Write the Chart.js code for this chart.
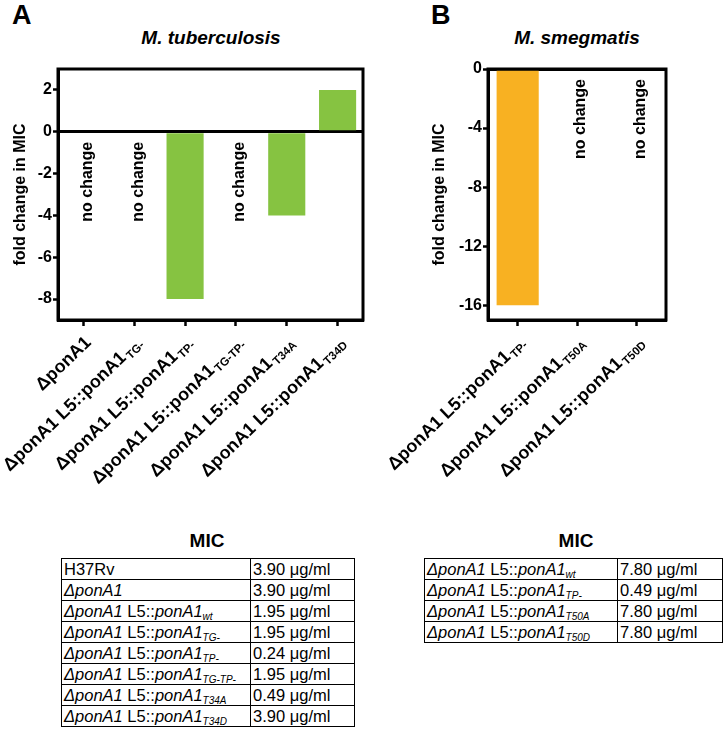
<!DOCTYPE html>
<html><head><meta charset="utf-8">
<script src="https://cdn.jsdelivr.net/npm/chart.js@4/dist/chart.umd.min.js"></script>
<style>
body{margin:0;background:#fff;width:726px;height:729px;position:relative;overflow:hidden;font-family:"Liberation Sans",Arial,sans-serif;color:#000;}
.abs{position:absolute;}
.panel{font-weight:bold;font-size:27px;line-height:27px;}
.title{font-weight:bold;font-style:italic;font-size:19px;line-height:20px;transform:translateX(-50%);white-space:nowrap;}
.mic{font-weight:bold;font-size:19px;line-height:20px;transform:translateX(-50%);}
table{border-collapse:collapse;font-size:16.5px;}
td{border:1.5px solid #000;height:20px;padding:0 0 0 2px;line-height:18px;white-space:nowrap;}
sub{font-size:10px;font-style:italic;vertical-align:-3px;line-height:0;}
</style></head>
<body>
<div class="abs panel" style="left:12px;top:2px;">A</div>
<div class="abs panel" style="left:431px;top:2px;">B</div>
<div class="abs title" style="left:211px;top:28px;">M. tuberculosis</div>
<div class="abs title" style="left:577px;top:28px;">M. smegmatis</div>
<div class="abs" style="left:0;top:0;"><canvas id="cA" width="380" height="520"></canvas></div>
<div class="abs" style="left:360px;top:0;"><canvas id="cB" width="366" height="520"></canvas></div>
<div class="abs mic" style="left:207px;top:531px;">MIC</div>
<div class="abs mic" style="left:576px;top:531px;">MIC</div>
<table class="abs" id="tA" style="left:61px;top:558px;width:294px;"></table>
<table class="abs" id="tB" style="left:424px;top:558px;width:299px;"></table>
<script>
// ---- chart data ----
const tbCategories = ['ΔponA1','ΔponA1 L5::ponA1','ΔponA1 L5::ponA1','ΔponA1 L5::ponA1','ΔponA1 L5::ponA1','ΔponA1 L5::ponA1'];
const tbSubscripts = ['','TG-','TP-','TG-TP-','T34A','T34D'];
const tbFoldChange = [0,0,-8,0,-4,2];
const tbTicks = [2,0,-2,-4,-6,-8];

const smCategories = ['ΔponA1 L5::ponA1','ΔponA1 L5::ponA1','ΔponA1 L5::ponA1'];
const smSubscripts = ['TP-','T50A','T50D'];
const smFoldChange = [-16,0,0];
const smTicks = [0,-4,-8,-12,-16];

// ---- table data ----
const tbTableStrains = ['H37Rv','ΔponA1','ΔponA1 L5::ponA1','ΔponA1 L5::ponA1','ΔponA1 L5::ponA1','ΔponA1 L5::ponA1','ΔponA1 L5::ponA1','ΔponA1 L5::ponA1'];
const tbTableSubs = ['','','wt','TG-','TP-','TG-TP-','T34A','T34D'];
const tbTableMIC = ['3.90 μg/ml','3.90 μg/ml','1.95 μg/ml','1.95 μg/ml','0.24 μg/ml','1.95 μg/ml','0.49 μg/ml','3.90 μg/ml'];
const smTableStrains = ['ΔponA1 L5::ponA1','ΔponA1 L5::ponA1','ΔponA1 L5::ponA1','ΔponA1 L5::ponA1'];
const smTableSubs = ['wt','TP-','T50A','T50D'];
const smTableMIC = ['7.80 μg/ml','0.49 μg/ml','7.80 μg/ml','7.80 μg/ml'];

function fmt(name, sub){
  let h = name.replace(/Δ?ponA1/g, m => '<i>'+m+'</i>');
  if (sub) h += '<sub>'+sub+'</sub>';
  return h;
}
function buildTable(id, strains, subs, mic, w1){
  const t = document.getElementById(id);
  strains.forEach((s,i)=>{
    const tr = document.createElement('tr');
    tr.innerHTML = '<td style="width:'+w1+'px">'+fmt(s,subs[i])+'</td><td>'+mic[i]+'</td>';
    t.appendChild(tr);
  });
}
buildTable('tA', tbTableStrains, tbTableSubs, tbTableMIC, 186);
buildTable('tB', smTableStrains, smTableSubs, smTableMIC, 190);

const FONT = '"Liberation Sans", Arial, sans-serif';
const LABEL_ANGLE = 44 * Math.PI / 180;

function xLabelPlugin(labels, subs){
  return {
    id:'xlabels',
    afterDraw(chart){
      const ctx = chart.ctx, xs = chart.scales.x, area = chart.chartArea;
      labels.forEach((lab,i)=>{
        const x = xs.getPixelForTick(i);
        ctx.save();
        ctx.translate(x + 5, area.bottom + 20);
        ctx.rotate(-LABEL_ANGLE);
        ctx.fillStyle = '#000';
        ctx.textBaseline = 'middle';
        ctx.textAlign = 'left';
        const mainF = 'bold 18px ' + FONT, subF = 'bold 11.5px ' + FONT;
        ctx.font = mainF;
        const w1 = ctx.measureText(lab).width;
        let w2 = 0;
        if (subs[i]) { ctx.font = subF; w2 = ctx.measureText(subs[i]).width + 2; }
        ctx.font = mainF;
        ctx.fillText(lab, -(w1+w2), 0);
        if (subs[i]) { ctx.font = subF; ctx.fillText(subs[i], -w2+2, 5); }
        ctx.restore();
      });
    }
  };
}
const noChangePlugin = {
  id:'nochange',
  afterDatasetsDraw(chart){
    const ctx = chart.ctx, xs = chart.scales.x, ys = chart.scales.y;
    const data = chart.data.datasets[0].data;
    data.forEach((v,i)=>{
      if (v !== 0) return;
      ctx.save();
      ctx.translate(xs.getPixelForValue(i) + 4, ys.getPixelForValue(0) + 10);
      ctx.rotate(-Math.PI/2);
      ctx.font = 'bold 16px ' + FONT;
      ctx.fillStyle = '#000';
      ctx.textAlign = 'right';
      ctx.textBaseline = 'middle';
      ctx.fillText('no change', 0, 0);
      ctx.restore();
    });
  }
};
const framePlugin = {
  id:'frame',
  afterDraw(chart){
    const a = chart.chartArea, ctx = chart.ctx;
    ctx.save();
    ctx.strokeStyle = '#000';
    ctx.lineWidth = 3;
    ctx.strokeRect(a.left, a.top, a.right-a.left, a.bottom-a.top);
    ctx.restore();
  }
};

function makeChart(id, cats, subs, vals, ticks, min, max, color, barPct, pad, yW){
  return new Chart(document.getElementById(id), {
    type:'bar',
    data:{
      labels: cats.map((c,i)=>c+' '+subs[i]),
      datasets:[{data: vals, backgroundColor: color, borderWidth:0, barPercentage: barPct, categoryPercentage: 1}]
    },
    options:{
      responsive:false, animation:false, devicePixelRatio:1,
      layout:{padding: pad},
      plugins:{legend:{display:false}, tooltip:{enabled:false}},
      scales:{
        x:{
          type:'category',
          ticks:{display:false},
          grid:{offset:false, drawOnChartArea:false, drawTicks:true, tickLength:6, tickColor:'#000', tickWidth:2.5},
          border:{display:true, color:'#000', width:3},
          afterFit: s => { s.height = 200; }
        },
        y:{
          min: min, max: max,
          afterBuildTicks: s => { s.ticks = ticks.map(v => ({value: v})); },
          ticks:{color:'#000', font:{family: FONT, size:16, weight:'bold'}, padding:1},
          grid:{drawOnChartArea:true, color: c => (c.tick && c.tick.value === 0) ? '#000' : 'rgba(0,0,0,0)', lineWidth:3, tickLength:5, tickColor:'#000', tickWidth:2.5},
          border:{display:true, color:'#000', width:3},
          title:{display:true, text:'fold change in MIC', color:'#000', font:{family: FONT, size:16, weight:'bold'}, padding:{top:0, bottom:0}},
          afterFit: s => { s.width = yW; }
        }
      }
    },
    plugins:[noChangePlugin, framePlugin, xLabelPlugin(cats, subs)]
  });
}

makeChart('cA', tbCategories, tbSubscripts, tbFoldChange, tbTicks, -9, 3, '#86C341', 0.73, {left:11, top:69, right:17, bottom:0}, 47);
makeChart('cB', smCategories, smSubscripts, smFoldChange, smTicks, -17, 0, '#F8B122', 0.71, {left:70, top:69, right:60, bottom:0}, 58);
</script>
</body></html>
